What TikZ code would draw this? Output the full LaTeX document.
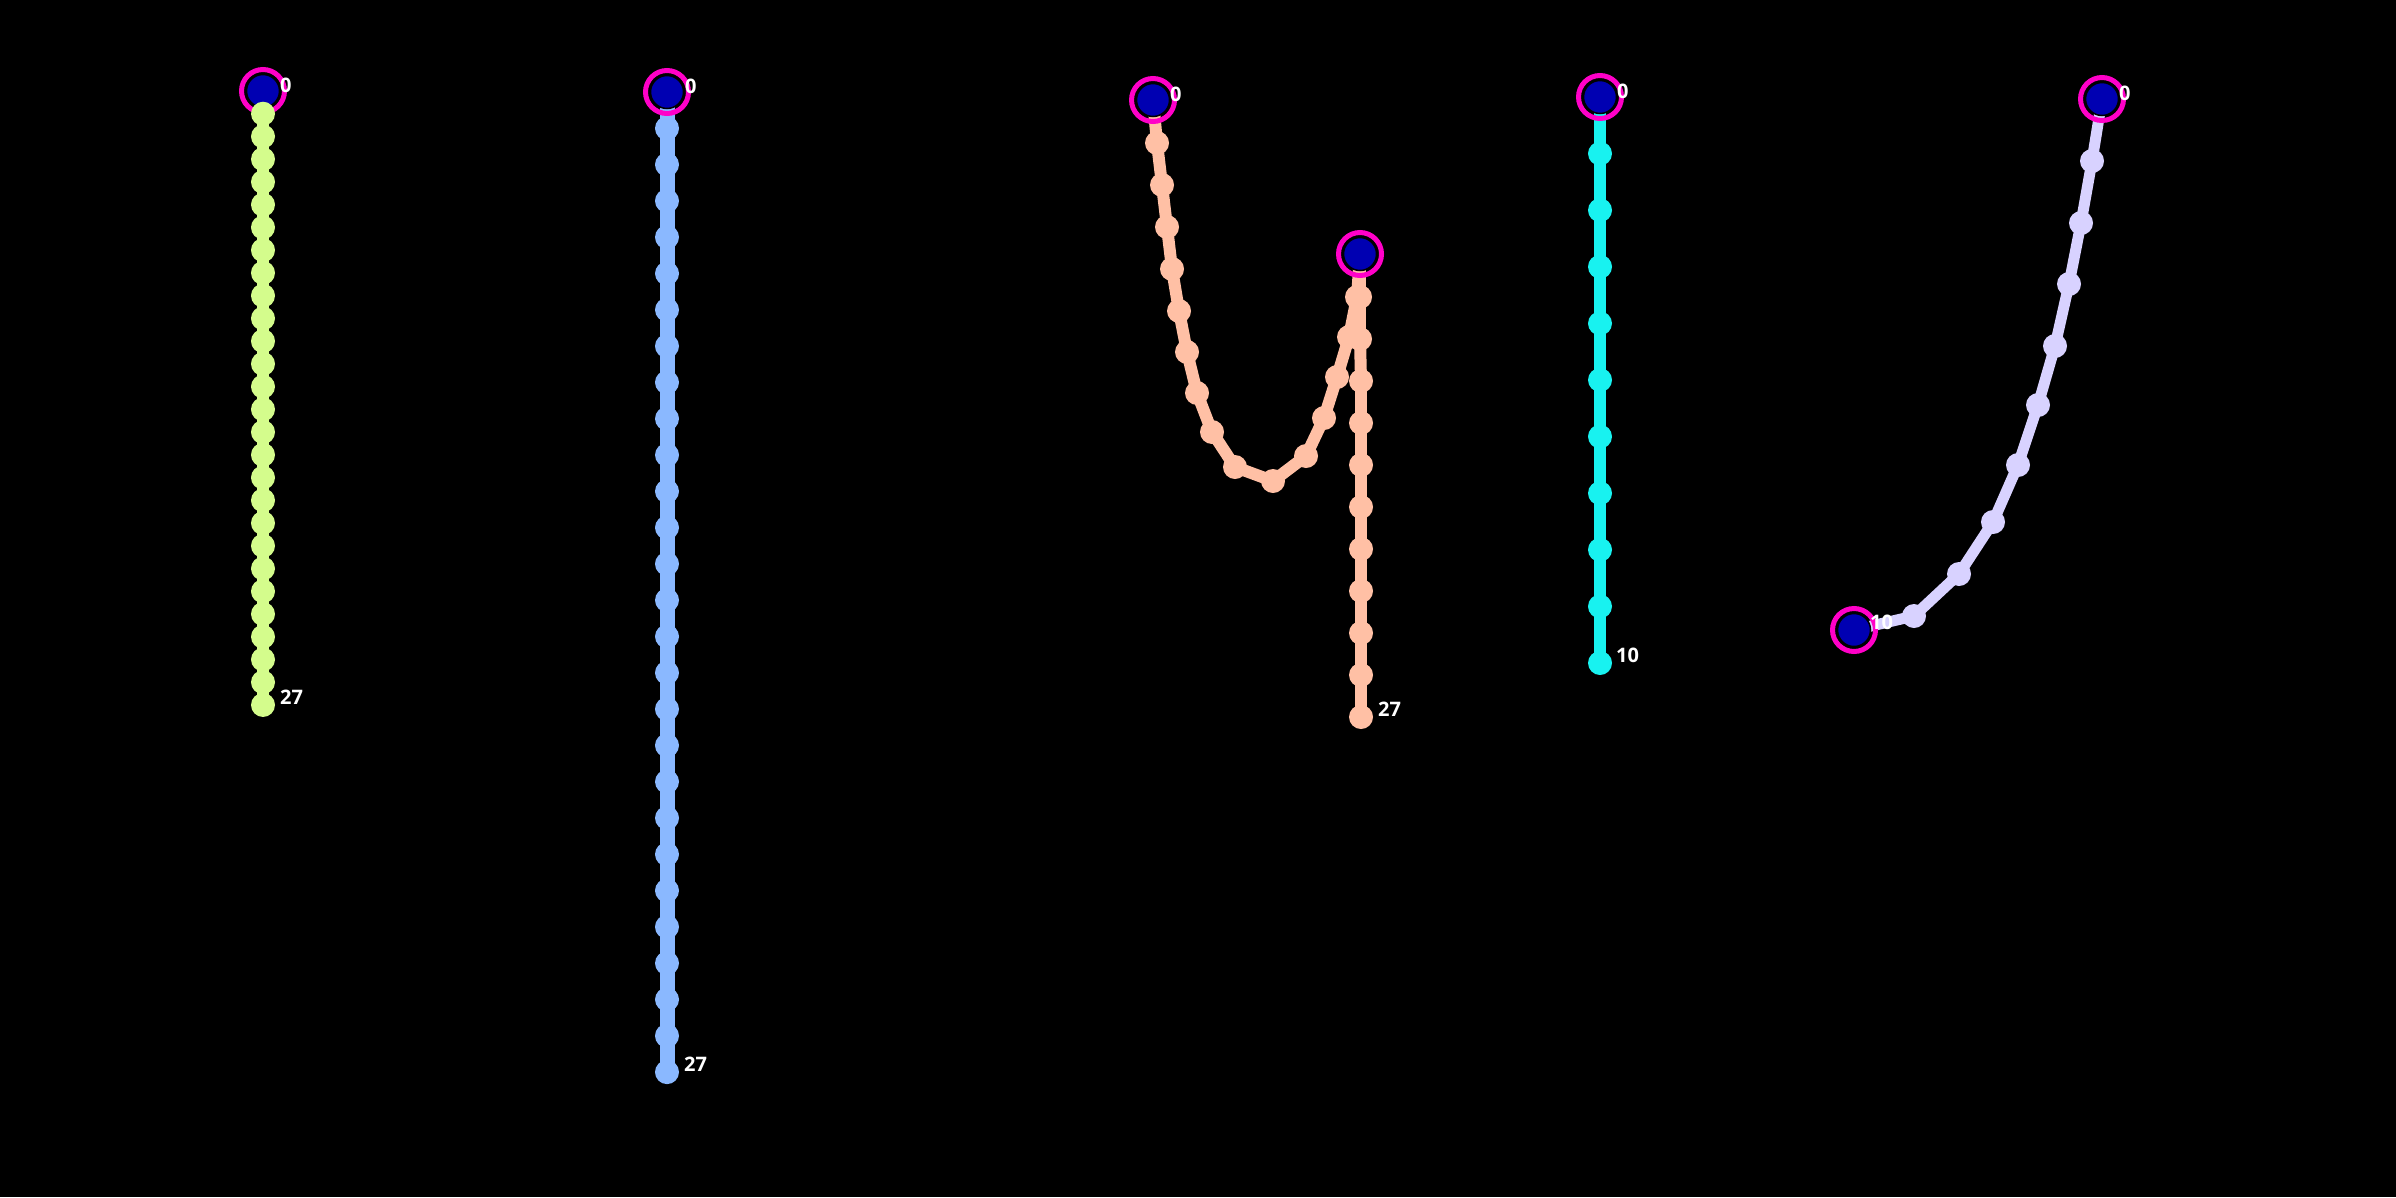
\documentclass[tikz,border=0pt]{standalone}
\usepackage{fontspec}
\setmainfont{Open Sans}
\pgfdeclarelayer{bg}
\pgfsetlayers{bg,main}
\definecolor{cgreen}{RGB}{212,252,140}
\definecolor{cblue}{RGB}{138,184,255}
\definecolor{cpeach}{RGB}{255,192,165}
\definecolor{ccyan}{RGB}{24,242,240}
\definecolor{clav}{RGB}{216,210,255}
\definecolor{pinblue}{RGB}{0,0,178}
\definecolor{pinring}{RGB}{255,0,200}
\tikzset{
  dot/.style={circle,fill=#1,draw=none,minimum size=24pt,inner sep=0pt},
  pinned/.style={circle,fill=pinblue,draw=black,line width=1.5pt,minimum size=33pt,inner sep=0pt},
  pinring/.style={circle,draw=pinring,line width=5pt,minimum size=43pt,inner sep=0pt,fill=none},
  link/.style={line width=#1},
  lbl/.style={anchor=west,text=white,inner sep=0pt,font=\fontsize{20}{24}\selectfont\bfseries}
}
\begin{document}
\begin{tikzpicture}[x=1pt,y=-1pt]
\useasboundingbox (0,0) rectangle (2396,1197);

% ---------- chain 1 (green) ----------
\foreach \i in {0,...,27} \coordinate (g\i) at (263,{91+22.74*\i});
% ---------- chain 2 (blue) ----------
\foreach \i in {0,...,27} \coordinate (b\i) at (667,{92+36.3*\i});
% ---------- chain 3 (peach) ----------
\foreach \x/\y [count=\k from 0] in {1153/100,1157/143,1162/185,1167/227,1172/269,1179/311,1187/352,1197/393,1212/432,1235/467,1273/481,1306/456,1324/418,1337/377,1349/337,1357/297,1360/254,1360/297,1360/339,1361/381,1361/423,1361/465,1361/507,1361/549,1361/591,1361/633,1361/675,1361/717}
  \coordinate (p\k) at (\x,\y);
% ---------- chain 4 (cyan) ----------
\foreach \i in {0,...,10} \coordinate (c\i) at (1600,{97+56.6*\i});
% ---------- chain 5 (lavender) ----------
\foreach \x/\y [count=\k from 0] in {2102/99,2092/161,2081/223,2069/284,2055/346,2038/405,2018/465,1993/522,1959/574,1914/616,1854/630}
  \coordinate (l\k) at (\x,\y);

% background and links
\begin{pgfonlayer}{bg}
\fill[black] (0,0) rectangle (2396,1197);
\foreach \i [count=\j] in {0,...,26} \draw[link=12pt,cgreen] (g\i) -- (g\j);
\foreach \i [count=\j] in {0,...,26} \draw[link=15pt,cblue] (b\i) -- (b\j);
\foreach \i [count=\j] in {0,...,26} \draw[link=12pt,cpeach] (p\i) -- (p\j);
\foreach \i [count=\j] in {0,...,9} \draw[link=12pt,ccyan] (c\i) -- (c\j);
\foreach \i [count=\j] in {0,...,9} \draw[link=11pt,clav] (l\i) -- (l\j);
\end{pgfonlayer}

% pinned points
\foreach \n in {g0,b0,p0,p16,c0,l0,l10} {
  \node[pinring] (r\n) at (\n) {};
  \node[pinned] (d\n) at (\n) {};
}

% free points
\foreach \i in {1,...,27} \node[dot=cgreen] (gd\i) at (g\i) {};
\foreach \i in {1,...,27} \node[dot=cblue] (bd\i) at (b\i) {};
\foreach \i in {1,...,15,17,18,...,27} \node[dot=cpeach] (pd\i) at (p\i) {};
\foreach \i in {1,...,10} \node[dot=ccyan] (cd\i) at (c\i) {};
\foreach \i in {1,...,9} \node[dot=clav] (ld\i) at (l\i) {};

% labels
\node[lbl] (tg0) at ([shift={(17,-6)}]g0) {0};
\node[lbl] (tg27) at ([shift={(17,-8)}]g27) {27};
\node[lbl] (tb0) at ([shift={(18,-6)}]b0) {0};
\node[lbl] (tb27) at ([shift={(17,-8)}]b27) {27};
\node[lbl] (tp0) at ([shift={(17,-6)}]p0) {0};
\node[lbl] (tp27) at ([shift={(17,-8)}]p27) {27};
\node[lbl] (tc0) at ([shift={(17,-6)}]c0) {0};
\node[lbl] (tc10) at ([shift={(16,-8)}]c10) {10};
\node[lbl] (tl0) at ([shift={(17,-6)}]l0) {0};
\node[lbl] (tl10) at ([shift={(16,-8)}]l10) {10};
\end{tikzpicture}
\end{document}
